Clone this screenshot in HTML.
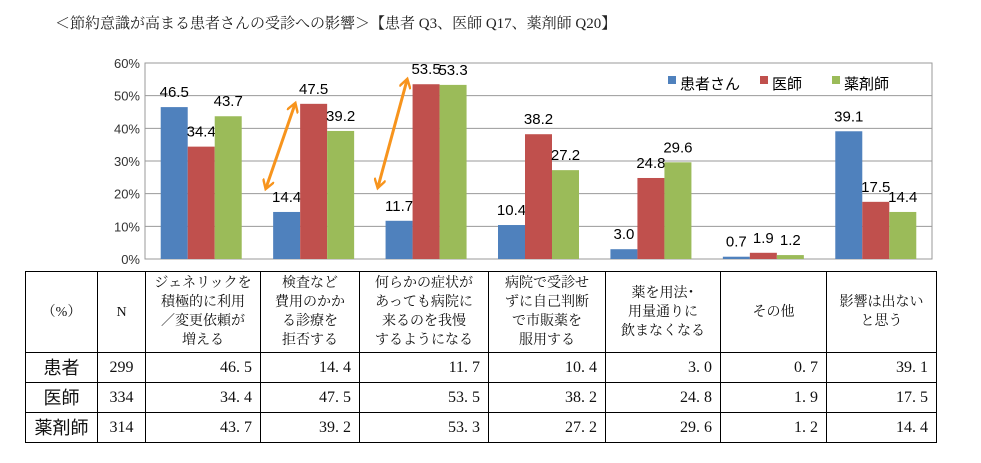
<!DOCTYPE html>
<html><head><meta charset="utf-8">
<style>
html,body{margin:0;padding:0;background:#fff;}
body{width:981px;height:463px;position:relative;overflow:hidden;font-family:"Liberation Sans","Noto Sans CJK JP",sans-serif;}
#title{position:absolute;left:55px;top:12px;font-size:15px;color:#222;font-family:"Liberation Serif","Noto Serif CJK JP","Noto Serif CJK SC",serif;white-space:nowrap;}
svg{position:absolute;left:0;top:0;}
table{position:absolute;left:25px;top:271px;border-collapse:collapse;font-family:"Liberation Serif","Noto Serif CJK JP","Noto Serif CJK SC",serif;color:#111;table-layout:fixed;}
td{border:1px solid #000;padding:0;font-size:14px;line-height:19px;overflow:hidden;}
td.h{text-align:center;vertical-align:middle;white-space:nowrap;}
td.n{text-align:right;padding-right:8px;font-size:16px;}
td.r{text-align:center;font-size:18px;font-family:"Noto Sans CJK JP",sans-serif;}
</style></head><body>
<div id="title">＜節約意識が高まる患者さんの受診への影響＞【患者 Q3、医師 Q17、薬剤師 Q20】</div>
<svg id="chart" width="981" height="270"></svg>
<table>
<tr style="height:81px">
<td class="h" style="width:71px">（%）</td>
<td class="h" style="width:47px">N</td>
<td class="h" style="width:114px">ジェネリックを<br>積極的に利用<br>／変更依頼が<br>増える</td>
<td class="h" style="width:98px">検査など<br>費用のかか<br>る診療を<br>拒否する</td>
<td class="h" style="width:128px">何らかの症状が<br>あっても病院に<br>来るのを我慢<br>するようになる</td>
<td class="h" style="width:116px">病院で受診せ<br>ずに自己判断<br>で市販薬を<br>服用する</td>
<td class="h" style="width:114px">薬を用法･<br>用量通りに<br>飲まなくなる</td>
<td class="h" style="width:105px">その他</td>
<td class="h" style="width:109px">影響は出ない<br>と思う</td>
</tr>
<tr style="height:30px"><td class="r">患者</td><td class="h" style="font-size:16px">299</td><td class="n">46. 5</td><td class="n">14. 4</td><td class="n">11. 7</td><td class="n">10. 4</td><td class="n">3. 0</td><td class="n">0. 7</td><td class="n">39. 1</td></tr>
<tr style="height:30px"><td class="r">医師</td><td class="h" style="font-size:16px">334</td><td class="n">34. 4</td><td class="n">47. 5</td><td class="n">53. 5</td><td class="n">38. 2</td><td class="n">24. 8</td><td class="n">1. 9</td><td class="n">17. 5</td></tr>
<tr style="height:30px"><td class="r">薬剤師</td><td class="h" style="font-size:16px">314</td><td class="n">43. 7</td><td class="n">39. 2</td><td class="n">53. 3</td><td class="n">27. 2</td><td class="n">29. 6</td><td class="n">1. 2</td><td class="n">14. 4</td></tr>
</table>
<script>
const categories = ["generic","refuse-exam","endure","otc","not-take","other","no-effect"];
const seriesNames = ["患者さん","医師","薬剤師"];
const patient = [46.5,14.4,11.7,10.4,3.0,0.7,39.1];
const doctor = [34.4,47.5,53.5,38.2,24.8,1.9,17.5];
const pharmacist = [43.7,39.2,53.3,27.2,29.6,1.2,14.4];
const yTicks = [0,10,20,30,40,50,60];

const NS="http://www.w3.org/2000/svg";
const svg=document.getElementById('chart');
const X0=145,X1=932,Y0=259,Y1=63,YMAX=60;
const y=v=>Y0-(v/YMAX)*(Y0-Y1);
const bandW=(X1-X0)/categories.length;
const xc=i=>X0+bandW*(i+0.5);
const BW=27;
const colors=["#4F81BD","#C0504D","#9BBB59"];
function mk(t,a){const e=document.createElementNS(NS,t);for(const k in a)e.setAttribute(k,a[k]);svg.appendChild(e);return e;}
const frame=mk('rect',{x:X0,y:Y1,width:X1-X0,height:Y0-Y1,fill:'none',stroke:'#999'});


yTicks.forEach(t=>{
  const l=mk('line',{x1:X0,x2:X1,y1:y(t),y2:y(t),stroke:'#999','stroke-width':1});
  
  
  const tx=mk('text',{x:X0-5,y:y(t)+5,'text-anchor':'end','font-size':13,fill:'#333'});
  tx.textContent=t+'%';
  
  
});
[patient,doctor,pharmacist].forEach((s,si)=>{
  s.forEach((v,i)=>{
    const bx=xc(i)-1.5*BW+si*BW;
    const r=mk('rect',{x:bx,y:y(v),width:BW,height:Y0-y(v),fill:colors[si]});
    
    
    const t=mk('text',{x:bx+BW/2,y:y(v)-10,'text-anchor':'middle','font-size':15,fill:'#000'});
    t.textContent=v.toFixed(1);
    
    
  });
});
const lx=[668,760,832];
seriesNames.forEach((n,i)=>{
  const r=mk('rect',{x:lx[i],y:76,width:8,height:8,fill:colors[i]});
  
  
  const t=mk('text',{x:lx[i]+12,y:89,'font-size':15,fill:'#000'});
  t.textContent=n;
  
  
});
const defs=mk('defs',{});
const mkr=document.createElementNS(NS,'marker');
[['id','ah'],['viewBox','0 0 10 10'],['refX','7'],['refY','5'],['markerWidth','4'],['markerHeight','4'],['orient','auto-start-reverse']].forEach(([k,v])=>mkr.setAttribute(k,v));
const p=document.createElementNS(NS,'path');p.setAttribute('d','M0,0 L8,5 L0,10');p.setAttribute('fill','none');p.setAttribute('stroke','#F7941D');p.setAttribute('stroke-width','2');
mkr.appendChild(p);defs.appendChild(mkr);
[[266,188,295,104],[378,187,407,80]].forEach(a=>{
  const l=mk('line',{x1:a[0],y1:a[1],x2:a[2],y2:a[3],stroke:'#F7941D','stroke-width':3,'marker-start':'url(#ah)','marker-end':'url(#ah)'});
  
  
});
</script>
</body></html>
